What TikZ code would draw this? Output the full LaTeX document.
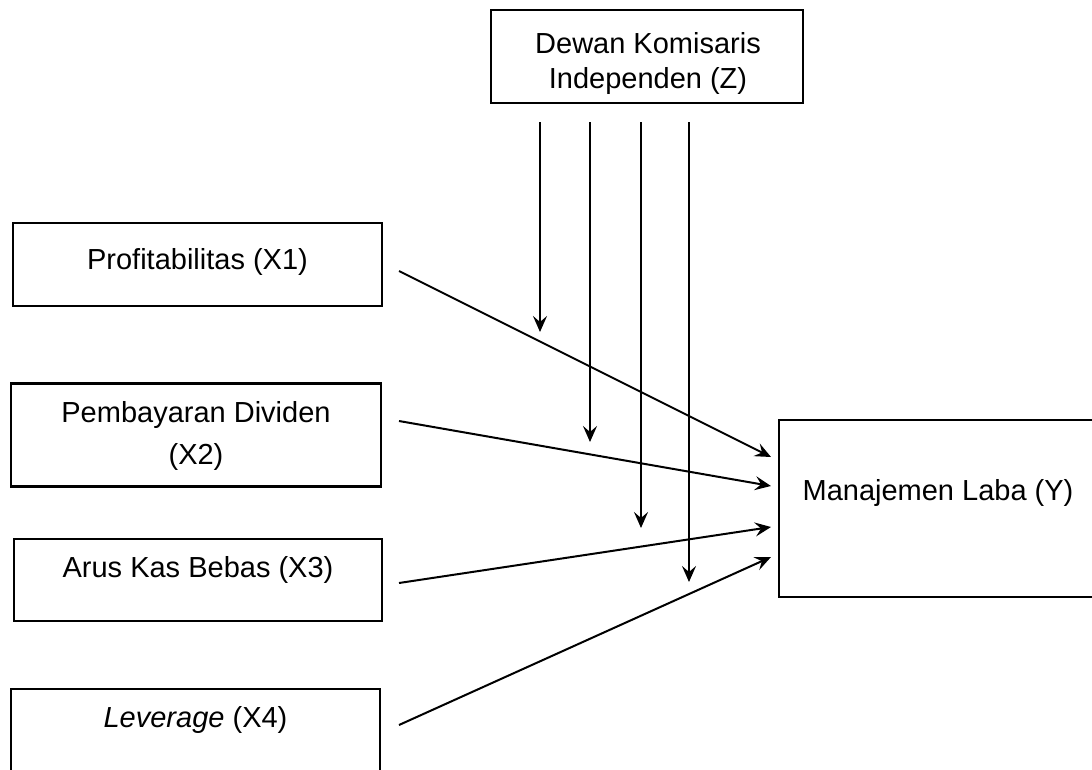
\documentclass[tikz,border=0pt]{standalone}
\usepackage{fontspec}
\setmainfont{Liberation Sans}
\usetikzlibrary{arrows.meta}
\begin{document}
\begin{tikzpicture}[x=1pt,y=-1pt,
  box/.style={draw=black, line width=2.6pt, rectangle, inner sep=0pt},
  lbl/.style={font=\fontsize{29}{35}\selectfont, align=center, inner sep=0pt},
  arr/.style={line width=2pt, -{Stealth[length=16pt,width=14pt,inset=6pt]}}]
\useasboundingbox (0,0) rectangle (1092,769);
\clip (0,0) rectangle (1092,769);
% boxes
\node[box, minimum width=312pt, minimum height=93pt] (z) at (647,56.5) {};
\node[lbl] (zt) at (648,63) {Dewan Komisaris\\Independen (Z)};
\node[box, minimum width=369pt, minimum height=83pt] (x1) at (197.5,264.5) {};
\node[lbl] (x1t) at (197.5,262) {Profitabilitas (X1)};
\node[box, minimum width=370pt, minimum height=103pt] (x2) at (196,435) {};
\node[lbl, font=\fontsize{29}{42}\selectfont] (x2t) at (196,436) {Pembayaran Dividen\\(X2)};
\node[box, minimum width=368pt, minimum height=82pt] (x3) at (198,580) {};
\node[lbl] (x3t) at (198,570) {Arus Kas Bebas (X3)};
\node[box, minimum width=369pt, minimum height=100pt] (x4) at (195.5,739) {};
\node[lbl] (x4t) at (195.5,720) {\textit{Leverage} (X4)};
\node[box, minimum width=318pt, minimum height=177pt] (y) at (938,508.5) {};
\node[lbl] (yt) at (938,493) {Manajemen Laba (Y)};
% connector points
\coordinate (z1) at (540,122); \coordinate (m1) at (540,332);
\coordinate (z2) at (590,122); \coordinate (m2) at (590,442);
\coordinate (z3) at (641,122); \coordinate (m3) at (641,528);
\coordinate (z4) at (689,122); \coordinate (m4) at (689,582);
\coordinate (s1) at (399,271); \coordinate (e1) at (771,457);
\coordinate (s2) at (399,421); \coordinate (e2) at (771,486);
\coordinate (s3) at (399,583); \coordinate (e3) at (771,527);
\coordinate (s4) at (399,725); \coordinate (e4) at (771,557);
\draw[arr] (z1) -- (m1);
\draw[arr] (z2) -- (m2);
\draw[arr] (z3) -- (m3);
\draw[arr] (z4) -- (m4);
\draw[arr] (s1) -- (e1);
\draw[arr] (s2) -- (e2);
\draw[arr] (s3) -- (e3);
\draw[arr] (s4) -- (e4);
\end{tikzpicture}
\end{document}
